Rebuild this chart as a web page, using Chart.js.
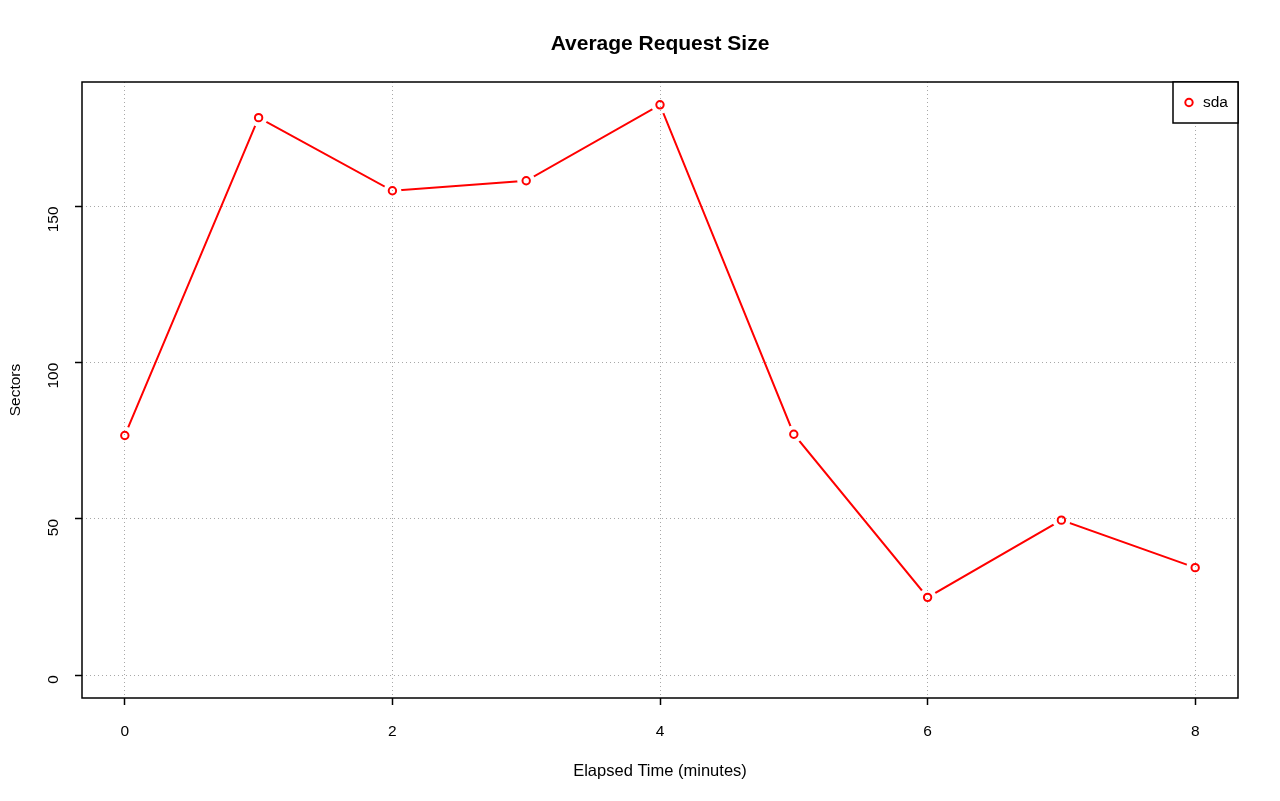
<!DOCTYPE html>
<html>
<head>
<meta charset="utf-8">
<script src="https://cdn.jsdelivr.net/npm/chart.js@4.4.1/dist/chart.umd.min.js"></script>
<style>
html,body{margin:0;padding:0;background:#fff;}
#wrap{width:1280px;height:801px;}
</style>
</head>
<body>
<div id="wrap"><canvas id="c" width="1280" height="801"></canvas></div>
<script>
const chartTitle = "Average Request Size";
const xLabel = "Elapsed Time (minutes)";
const yLabel = "Sectors";
const seriesName = "sda";
const minutes = [0, 1, 2, 3, 4, 5, 6, 7, 8];
const sectors = [76.7, 178.4, 155.0, 158.2, 182.5, 77.1, 24.9, 49.6, 34.4];
const xTicks = [0, 2, 4, 6, 8];
const yTicks = [0, 50, 100, 150];

const FONT = "'Liberation Sans', Arial, Helvetica, sans-serif";
const RED = "#ff0000";

const pts = minutes.map((m, i) => ({x: m, y: sectors[i]}));

const gapPlugin = {
  id: 'gap',
  beforeDatasetDraw(chart, args) {
    if (args.index !== 0) return;
    const ctx = chart.ctx;
    const meta = chart.getDatasetMeta(0);
    ctx.save();
    ctx.beginPath();
    ctx.rect(0, 0, chart.width, chart.height);
    meta.data.forEach(p => {
      ctx.moveTo(p.x + 9, p.y);
      ctx.arc(p.x, p.y, 9, 0, Math.PI * 2);
    });
    ctx.clip('evenodd');
  },
  afterDatasetDraw(chart, args) {
    if (args.index !== 0) return;
    chart.ctx.restore();
  }
};

const decoPlugin = {
  id: 'deco',
  afterDraw(chart) {
    const ctx = chart.ctx;
    const a = chart.chartArea;
    ctx.save();
    ctx.strokeStyle = '#000';
    ctx.lineWidth = 1.5;
    ctx.strokeRect(a.left, a.top, a.right - a.left, a.bottom - a.top);
    ctx.fillStyle = '#000';
    ctx.font = "bold 21px " + FONT;
    ctx.textAlign = 'center';
    ctx.textBaseline = 'middle';
    ctx.fillText(chartTitle, (a.left + a.right) / 2, 44);
    const lw = 65, lh = 41;
    const lx = a.right - lw, ly = a.top;
    ctx.fillStyle = '#fff';
    ctx.fillRect(lx, ly, lw, lh);
    ctx.strokeStyle = '#000';
    ctx.lineWidth = 1.5;
    ctx.strokeRect(lx, ly, lw, lh);
    ctx.beginPath();
    ctx.arc(lx + 16, ly + 20.5, 3.7, 0, Math.PI * 2);
    ctx.strokeStyle = RED;
    ctx.lineWidth = 2;
    ctx.stroke();
    ctx.fillStyle = '#000';
    ctx.font = "15.5px " + FONT;
    ctx.textAlign = 'left';
    ctx.fillText(seriesName, lx + 30, ly + 21);
    ctx.restore();
  }
};

const gridOpts = {
  color: '#a8a8a8',
  lineWidth: 1,
  tickColor: '#000',
  tickBorderDash: [],
  tickLength: 7,
  tickWidth: 1.5
};

new Chart(document.getElementById('c'), {
  type: 'line',
  data: {
    datasets: [
      {
        label: seriesName,
        data: pts,
        borderColor: RED,
        borderWidth: 2,
        pointRadius: 0,
        pointHoverRadius: 0,
        tension: 0,
        fill: false,
        order: 2
      },
      {
        label: seriesName + ' points',
        data: pts,
        showLine: false,
        borderColor: RED,
        backgroundColor: 'rgba(0,0,0,0)',
        pointRadius: 3.7,
        pointBorderWidth: 2,
        pointHoverRadius: 3.7,
        order: 1
      }
    ]
  },
  options: {
    responsive: false,
    animation: false,
    events: [],
    layout: {padding: {top: 82, right: 42, left: 0, bottom: 0}},
    plugins: {legend: {display: false}, title: {display: false}, tooltip: {enabled: false}},
    scales: {
      x: {
        type: 'linear',
        min: -0.32,
        max: 8.32,
        afterBuildTicks: s => { s.ticks = xTicks.map(v => ({value: v})); },
        afterFit: s => { s.height = 103; },
        border: {display: false, dash: [1, 3]},
        grid: gridOpts,
        ticks: {
          color: '#000',
          font: {family: FONT, size: 15.5},
          padding: 17,
          maxRotation: 0,
          minRotation: 0,
          callback: v => String(v)
        },
        title: {
          display: true,
          text: xLabel,
          color: '#000',
          font: {family: FONT, size: 16.5},
          padding: {top: 0, bottom: 20}
        }
      },
      y: {
        type: 'linear',
        min: -7.3,
        max: 189.8,
        afterBuildTicks: s => { s.ticks = yTicks.map(v => ({value: v})); },
        afterFit: s => { s.width = 82; },
        border: {display: false, dash: [1, 3]},
        grid: gridOpts,
        ticks: {
          color: '#000',
          font: {family: FONT, size: 15.5},
          padding: 21,
          minRotation: 90,
          maxRotation: 90,
          callback: v => String(v)
        },
        title: {
          display: true,
          text: yLabel,
          color: '#000',
          font: {family: FONT, size: 15.5},
          padding: {top: 6, bottom: 0}
        }
      }
    }
  },
  plugins: [gapPlugin, decoPlugin]
});
</script>
</body>
</html>
